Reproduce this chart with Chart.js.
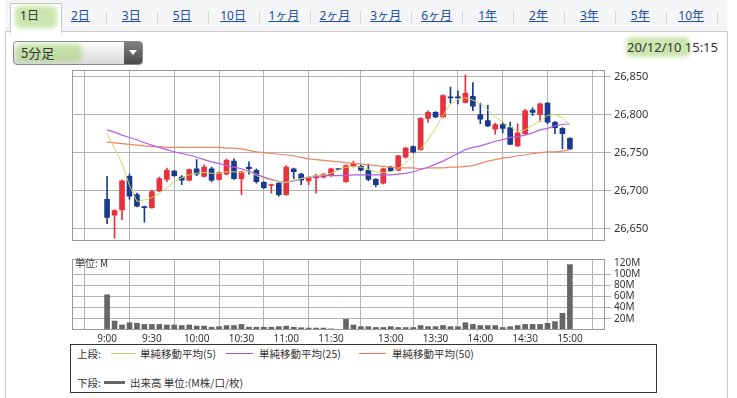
<!DOCTYPE html>
<html lang="ja">
<head>
<meta charset="utf-8">
<script src="https://cdn.jsdelivr.net/npm/chart.js@4.4.1/dist/chart.umd.min.js"></script>
<style>
  html, body { margin: 0; padding: 0; background: #fff; }
  body { width: 737px; height: 398px; overflow: hidden; position: relative;
         font-family: "Noto Sans", "Noto Sans CJK JP", sans-serif; color: #333; }
  .abs { position: absolute; }
  #tabbar { left: 5px; top: 0; width: 722px; height: 31px; background: #f4f5f7;
            border-bottom: 1px solid #c9c9c9; }
  .tab { position: absolute; top: 8px; width: 51px; text-align: center; font-size: 12px;
         line-height: 16px; color: #1f4e9c; text-decoration: underline;
         font-family: "Noto Sans", "Noto Sans CJK JP", sans-serif; }
  .sep { position: absolute; top: 11px; width: 1px; height: 13px; background: #d6d8dc; }
  #seltab { left: 5px; top: 3px; width: 50px; height: 29px; background: #fff;
            border: 1px solid #c9c9c9; border-bottom: none; }
  .glow { position: absolute; background: rgba(160, 212, 110, 0.55); border-radius: 5px; filter: blur(2px); }
  #frame { left: 5px; top: 31px; width: 721px; height: 380px; border-left: 1px solid #c9c9c9;
           border-right: 1px solid #c9c9c9; }
  #select { left: 13px; top: 41px; width: 128px; height: 22px; border: 1px solid #8a8a8a;
            border-radius: 4px; background: linear-gradient(#fdfdfd, #d9d9d9); overflow: hidden; }
  #selbtn { right: 0; top: 0; width: 18px; height: 22px; background: linear-gradient(#808080, #4a4a4a); }
  #selbtn span { position: absolute; left: 5px; top: 8px; width: 0; height: 0;
                 border-left: 4px solid transparent; border-right: 4px solid transparent; border-top: 5px solid #fff; }
  #seltext { left: 7px; top: 2px; font-size: 13px; line-height: 18px; font-family: "Noto Sans CJK JP", sans-serif; }
  #date { right: 19px; top: 38px; font-size: 13px; line-height: 18px; }
  canvas { position: absolute; }
  #unit { left: 75px; top: 256px; font-size: 10px; line-height: 13px; font-family: "Noto Sans CJK JP", sans-serif; }
  #legend { left: 70px; top: 344px; width: 585px; height: 47px; border: 1px solid #333; background: #fff;
            font-family: "Noto Sans CJK JP", sans-serif; font-size: 10.5px; }
  #legend span { position: absolute; line-height: 14px; white-space: nowrap; }
  #legend b { position: absolute; display: block; }
</style>
</head>
<body>
<div id="tabbar" class="abs"></div>
<div id="frame" class="abs"></div>
<div id="select" class="abs">
  <div class="glow" style="left:2px;top:2px;width:66px;height:18px;"></div>
  <div id="seltext" class="abs">5分足</div>
  <div id="selbtn" class="abs"><span></span></div>
</div>
<div class="glow" style="left:626px;top:37px;width:64px;height:20px;"></div>
<div id="date" class="abs">20/12/10 15:15</div>
<canvas id="pricechart" width="610" height="190" style="left:60px;top:60px;"></canvas>
<canvas id="volumechart" width="610" height="100" style="left:60px;top:250px;"></canvas>
<div id="unit" class="abs">単位: M</div>
<div id="legend" class="abs">
  <span style="left:6px;top:2px;">上段:</span>
  <b style="left:40px;top:8px;width:25px;height:1px;background:#b9d35a;"></b>
  <span style="left:69px;top:2px;">単純移動平均(5)</span>
  <b style="left:155px;top:8px;width:27px;height:1px;background:#a94fe0;"></b>
  <span style="left:188px;top:2px;">単純移動平均(25)</span>
  <b style="left:288px;top:8px;width:27px;height:1px;background:#ec7656;"></b>
  <span style="left:321px;top:2px;">単純移動平均(50)</span>
  <span style="left:6px;top:31px;">下段:</span>
  <b style="left:33px;top:36px;width:21px;height:3px;background:#666;"></b>
  <span style="left:59px;top:31px;">出来高 単位:(M株/口/枚)</span>
</div>

<script>
// 5-minute bars, 9:00 - 15:00 (slot 31 is the lunch break)
var times = ['9:00', '9:05', '9:10', '9:15', '9:20', '9:25', '9:30', '9:35', '9:40', '9:45', '9:50', '9:55',
    '10:00', '10:05', '10:10', '10:15', '10:20', '10:25', '10:30', '10:35', '10:40', '10:45', '10:50', '10:55',
    '11:00', '11:05', '11:10', '11:15', '11:20', '11:25', '11:30', '',
    '12:30', '12:35', '12:40', '12:45', '12:50', '12:55',
    '13:00', '13:05', '13:10', '13:15', '13:20', '13:25', '13:30', '13:35', '13:40', '13:45', '13:50', '13:55',
    '14:00', '14:05', '14:10', '14:15', '14:20', '14:25', '14:30', '14:35', '14:40', '14:45', '14:50', '14:55',
    '15:00'];
var tickLabels = ['9:00', '9:30', '10:00', '10:30', '11:00', '11:30', '13:00', '13:30', '14:00', '14:30', '15:00'];
var priceTicks = [26650, 26700, 26750, 26800, 26850];
var volumeTicks = [20, 40, 60, 80, 100, 120];

var open = [26689, 26668, 26675, 26719, 26695, 26679, 26678, 26700, 26715, 26726, 26718, 26714,
    26729, 26719, 26729, 26715, 26722, 26739, 26716, 26731, 26727, 26711, 26707, 26710,
    26695, 26729, 26722, 26713, 26717, 26718, 26720, 26729,
    26712, 26732, 26732, 26727, 26715, 26710,
    26731, 26727, 26744, 26758, 26754, 26795, 26803, 26797, 26823, 26823, 26816, 26824,
    26800, 26792, 26781, 26787, 26783, 26759, 26775, 26806, 26800, 26815, 26790, 26782,
    26769];
var high = [26719, 26675, 26714, 26722, 26697, 26680, 26701, 26718, 26730, 26727, 26720, 26729,
    26741, 26734, 26731, 26725, 26742, 26742, 26726, 26738, 26729, 26712, 26709, 26711,
    26733, 26730, 26723, 26719, 26722, 26723, 26730, 26729,
    26734, 26739, 26734, 26735, 26716, 26730,
    26732, 26747, 26757, 26759, 26796, 26805, 26804, 26826, 26836, 26831, 26852, 26842,
    26815, 26812, 26789, 26790, 26790, 26788, 26807, 26809, 26815, 26816, 26791, 26783,
    26770];
var low = [26657, 26638, 26662, 26689, 26679, 26659, 26677, 26699, 26712, 26719, 26708, 26713,
    26720, 26718, 26712, 26714, 26721, 26715, 26695, 26722, 26710, 26703, 26697, 26693,
    26694, 26716, 26708, 26708, 26697, 26717, 26719, 26728,
    26711, 26731, 26726, 26713, 26705, 26709,
    26725, 26726, 26743, 26750, 26753, 26790, 26796, 26796, 26815, 26814, 26815, 26805,
    26788, 26784, 26774, 26776, 26761, 26758, 26774, 26799, 26791, 26788, 26775, 26755,
    26754];
var close = [26665, 26674, 26713, 26693, 26680, 26678, 26699, 26716, 26727, 26720, 26714, 26728,
    26722, 26731, 26714, 26724, 26740, 26716, 26725, 26729, 26712, 26704, 26708, 26695,
    26731, 26725, 26714, 26717, 26720, 26722, 26729, 26728,
    26733, 26736, 26727, 26715, 26708, 26729,
    26726, 26746, 26756, 26751, 26795, 26803, 26797, 26825, 26822, 26822, 26828, 26811,
    26794, 26785, 26787, 26782, 26761, 26776, 26805, 26803, 26814, 26790, 26783, 26775,
    26755];

var ma5 = [26775, 26756, 26736, 26707, 26686, 26688, 26691, 26697, 26704, 26712, 26717, 26721,
    26723, 26724, 26723, 26723, 26725, 26725, 26724, 26725, 26720, 26716, 26714, 26712,
    26711, 26714, 26716, 26718, 26720, 26721, 26723, 26727,
    26731, 26732, 26731, 26728, 26725, 26724,
    26725, 26729, 26737, 26746, 26755, 26767, 26782, 26799, 26814, 26820, 26822, 26819,
    26814, 26806, 26797, 26790, 26784, 26778, 26780, 26786, 26792, 26799, 26800, 26796,
    26786];
var ma25 = [26780, 26777, 26773, 26770, 26767, 26763, 26760, 26757, 26754, 26751, 26749, 26747,
    26744, 26741, 26738, 26736, 26733, 26731, 26729, 26726, 26722, 26718, 26715, 26712,
    26711, 26713, 26716, 26718, 26719, 26720, 26720, 26720,
    26720, 26721, 26721, 26721, 26721, 26721,
    26721, 26722, 26723, 26725, 26728, 26731, 26735, 26739, 26744, 26749, 26754, 26757,
    26759, 26762, 26765, 26767, 26770, 26771, 26773, 26776, 26780, 26782, 26785, 26787,
    26788];
var ma50 = [26764, 26763, 26762, 26761, 26760, 26759, 26758, 26758, 26757, 26757, 26757, 26757,
    26757, 26757, 26757, 26757, 26756, 26756, 26755, 26753, 26751, 26750, 26749, 26748,
    26747, 26746, 26744, 26742, 26741, 26740, 26739, 26738,
    26737, 26736, 26735, 26734, 26733, 26732,
    26731, 26730, 26730, 26730, 26729, 26730, 26730, 26730, 26731, 26731, 26732, 26733,
    26736, 26739, 26741, 26743, 26744, 26746, 26747, 26749, 26750, 26751, 26751, 26752,
    26754];
// volume, millions
var volume = [63, 16, 9, 13, 12, 10, 10, 10, 9, 9, 8, 9,
    7, 7, 5, 6, 8, 8, 10, 5, 5, 5, 5, 6,
    7, 5, 4, 3.5, 3.5, 3.5, 2, 0,
    19, 9, 6, 6, 4.5, 4.5,
    6, 4.5, 4.5, 4.5, 8, 6, 6, 8, 6, 6, 13, 10,
    8, 8, 8, 4.5, 6, 8, 10, 10, 10, 12, 15, 30,
    117];

/* tabs */
var tabNames = ['1日', '2日', '3日', '5日', '10日', '1ヶ月', '2ヶ月', '3ヶ月', '6ヶ月', '1年', '2年', '3年', '5年', '10年'];
var tabbar = document.getElementById('tabbar');
tabbar.innerHTML = '<div id="seltab" class="abs"></div>' +
    '<div class="glow" style="left:10px;top:6px;width:42px;height:22px;"></div>';
tabNames.forEach(function (name, i) {
    var left = -1 + i * 50.9;
    var t = document.createElement('div');
    t.className = 'tab';
    t.style.left = left + 'px';
    t.textContent = name;
    if (i === 0) { t.style.color = '#333'; t.style.textDecoration = 'none'; }
    tabbar.appendChild(t);
    if (i > 0) {
        var s = document.createElement('div');
        s.className = 'sep';
        s.style.left = (left + 51) + 'px';
        tabbar.appendChild(s);
    }
});

var upColor = '#e8313d';
var downColor = '#1b3a8e';
var gridColor = '#b3b3b3';
var tickIdx = tickLabels.map(function (t) { return times.indexOf(t); });
var candleColor = function (c) {
    return close[c.dataIndex] >= open[c.dataIndex] ? upColor : downColor;
};
var xy = function (arr) {
    return arr.map(function (v, i) { return { x: i, y: v }; });
};

var framePlugin = {
    id: 'frame',
    afterDraw: function (chart) {
        var a = chart.chartArea, c = chart.ctx;
        c.save();
        c.strokeStyle = '#9a9a9a';
        c.lineWidth = 1;
        c.strokeRect(Math.round(a.left) + 0.5, Math.round(a.top) + 0.5,
            Math.round(a.right - a.left) - 1, Math.round(a.bottom - a.top) - 1);
        c.restore();
    }
};

var xScale = function (showLabels) {
    return {
        type: 'linear',
        min: -4.7,
        max: 66.7,
        offset: false,
        afterBuildTicks: function (s) {
            s.ticks = tickIdx.map(function (v) { return { value: v }; });
        },
        afterFit: function (s) { s.height = showLabels ? 20 : 0; },
        border: { display: false },
        grid: { color: gridColor, drawTicks: false },
        ticks: {
            display: showLabels,
            autoSkip: false,
            maxRotation: 0,
            padding: 3,
            color: '#333',
            font: { family: 'Noto Sans', size: 10 },
            callback: function (v) { return times[v]; }
        }
    };
};

/* price chart */
var pricechart = document.getElementById('pricechart').getContext('2d');
new Chart(pricechart, {
    type: 'bar',
    data: {
        datasets: [{
            type: 'line', data: xy(ma5), borderColor: '#c3d96a', borderWidth: 1,
            pointRadius: 0, tension: 0, order: 0
        }, {
            type: 'line', data: xy(ma25), borderColor: '#b35fe3', borderWidth: 1.2,
            pointRadius: 0, tension: 0, order: 0
        }, {
            type: 'line', data: xy(ma50), borderColor: '#ef8566', borderWidth: 1.2,
            pointRadius: 0, tension: 0, order: 0
        }, {
            data: open.map(function (o, i) { return { x: i, y: [o, close[i]] }; }),
            backgroundColor: candleColor, barThickness: 5, minBarLength: 1,
            grouped: false, order: 1
        }, {
            data: low.map(function (l, i) { return { x: i, y: [l, high[i]] }; }),
            backgroundColor: candleColor, barThickness: 1,
            grouped: false, order: 2
        }]
    },
    options: {
        animation: false,
        responsive: false,
        layout: { padding: { left: 12, top: 7, right: 0, bottom: 5 } },
        plugins: { legend: { display: false }, tooltip: { enabled: false } },
        scales: {
            x: xScale(false),
            y: {
                position: 'right',
                min: 26635,
                max: 26859,
                afterBuildTicks: function (s) {
                    s.ticks = priceTicks.map(function (v) { return { value: v }; });
                },
                afterFit: function (s) { s.width = 65; },
                border: { display: false },
                grid: { color: gridColor, tickLength: 6 },
                ticks: {
                    autoSkip: false,
                    padding: 3,
                    color: '#333',
                    font: { family: 'Noto Sans', size: 11 },
                    callback: function (v) { return v.toLocaleString('en-US'); }
                }
            }
        }
    },
    plugins: [framePlugin]
});

/* volume chart */
var volumechart = document.getElementById('volumechart').getContext('2d');
new Chart(volumechart, {
    type: 'bar',
    data: {
        datasets: [{
            data: xy(volume),
            backgroundColor: '#666666',
            barThickness: 5,
            grouped: false
        }]
    },
    options: {
        animation: false,
        responsive: false,
        layout: { padding: { left: 12, top: 5, right: 0, bottom: 0 } },
        plugins: { legend: { display: false }, tooltip: { enabled: false } },
        scales: {
            x: xScale(true),
            y: {
                position: 'right',
                min: 0,
                max: 127,
                afterBuildTicks: function (s) {
                    s.ticks = volumeTicks.map(function (v) { return { value: v }; });
                },
                afterFit: function (s) { s.width = 65; },
                border: { display: false },
                grid: {
                    tickLength: 6,
                    color: function (c) { return c.tick && c.tick.value === 120 ? 'rgba(0,0,0,0)' : gridColor; }
                },
                ticks: {
                    autoSkip: false,
                    padding: 3,
                    color: '#333',
                    font: { family: 'Noto Sans', size: 10 },
                    callback: function (v) { return v + 'M'; }
                }
            }
        }
    },
    plugins: [framePlugin]
});
</script>
</body>
</html>
